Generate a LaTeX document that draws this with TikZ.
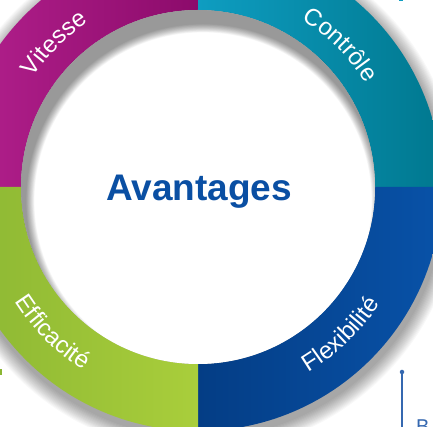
\documentclass[tikz,border=0pt]{standalone}
\usepackage{fontspec}
\setmainfont{Liberation Sans}
\usetikzlibrary{decorations.text,calc}
\definecolor{magL}{HTML}{B4218E}
\definecolor{magR}{HTML}{8C0B6B}
\definecolor{teaL}{HTML}{0E9DC1}
\definecolor{teaR}{HTML}{00788F}
\definecolor{bluL}{HTML}{043D85}
\definecolor{bluR}{HTML}{0852A8}
\definecolor{grnL}{HTML}{8BB633}
\definecolor{grnR}{HTML}{A9CE3B}
\definecolor{titleblue}{HTML}{0A4FA3}
\definecolor{lineblue}{HTML}{3568B0}
\newcommand\ringpart[3]{%
  \shade[left color=#2,right color=#3]
    ($(C)+(#1:177pt)$) -- ($(C)+(#1:244pt)$)
    arc[start angle=#1,delta angle=90,radius=244pt]
    -- ($(C)+({#1+90}:177pt)$)
    arc[start angle={#1+90},delta angle=-90,radius=177pt] -- cycle;}
\newcommand\lblfont{\fontsize{24pt}{24pt}\selectfont}
\tikzset{
  arclabel/.style={decorate,decoration={text along path,text={|\lblfont|#1},text align=center,text color=white}}
}
\begin{document}
\begin{tikzpicture}[x=1pt,y=1pt]
\useasboundingbox (0,0) rectangle (433,427);
\clip (0,0) rectangle (433,427);
\fill[white] (0,0) rectangle (433,427);
\coordinate (C) at (198,240);
% outer drop shadow
\foreach \i in {1,...,14}
  \fill[black,opacity=0.028] ($(C)+(2pt,-6pt)$) circle[radius={244pt+\i*1.1pt}];
% ring quadrants
\ringpart{90}{magL}{magR}
\ringpart{0}{teaL}{teaR}
\ringpart{-90}{bluL}{bluR}
\ringpart{180}{grnL}{grnR}
% inner disc and inner shadow
\fill[white] (C) circle[radius=177pt];
\begin{scope}
  \clip (C) circle[radius=177pt];
  \foreach \i in {0,...,14}
    \fill[black,opacity=0.03,even odd rule] (C) circle[radius=260pt]
      ($(C)+(5pt,-14pt)$) circle[radius={177pt-\i*0.6pt}];
\end{scope}
% labels
\path[arclabel=Vitesse] ($(C)+(165:198pt)$) arc[start angle=165,end angle=105,radius=198pt];
\path[arclabel=Contrôle] ($(C)+(75:197pt)$) arc[start angle=75,end angle=15,radius=197pt];
\path[arclabel=Flexibilité] ($(C)+(-81:216pt)$) arc[start angle=-81,end angle=-11,radius=216pt];
\path[arclabel=Efficacité] ($(C)+(-170:216pt)$) arc[start angle=-170,end angle=-100,radius=216pt];
\node[anchor=base,text=titleblue,font=\bfseries\fontsize{37pt}{37pt}\selectfont,inner sep=0] (title) at (199,226) {Avantages};
% fragments at edges
\node[circle,fill=lineblue,inner sep=0,minimum size=4.5pt] (dot) at (402,55) {};
\coordinate (dotend) at (402,-5);
\draw[lineblue,line width=1.1pt] (dot.center) -- (dotend);
\node[anchor=north west,text=lineblue,font=\fontsize{20pt}{20pt}\selectfont,inner sep=0] (bletter) at (416,7) {B};
\fill[teaL] (399,425.5) rectangle (402.5,428);
\fill[grnL] (-1,52) rectangle (1.5,58);
\end{tikzpicture}
\end{document}
